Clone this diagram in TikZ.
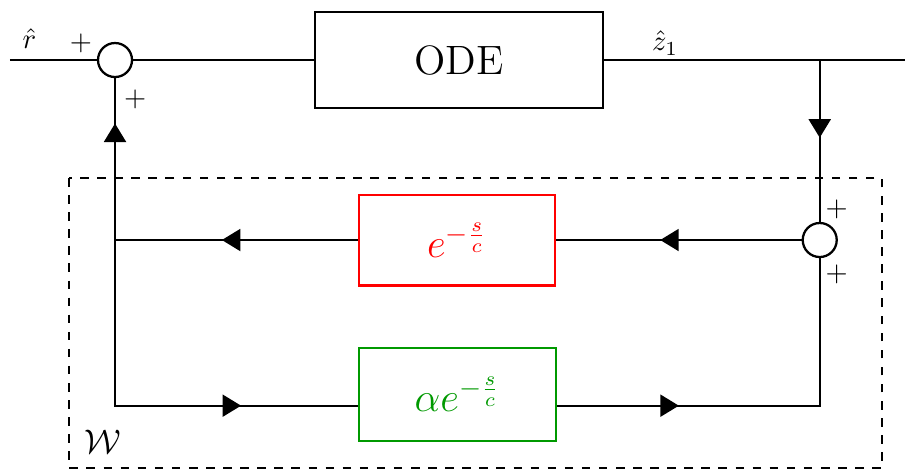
\documentclass[tikz,border=0pt]{standalone}
\usetikzlibrary{arrows.meta,decorations.markings}
\begin{document}
\begin{tikzpicture}[thick,
    block/.style={draw, rectangle, inner sep=2pt},
    sumnode/.style={draw, circle, minimum size=0.42cm, inner sep=0pt},
    flow/.style={postaction={decorate}, decoration={markings, mark=at position #1 with {\arrow{Triangle[length=6.5pt,width=7.7pt]}}}}]
    \useasboundingbox (0,0) rectangle (11.173,-5.802);
    \coordinate (in) at (0.123,-0.741);
    \coordinate (out) at (11.173,-0.741);
    \coordinate (br) at (10.12,-0.741);
    \node[sumnode] (sum1) at (1.42,-0.741) {};
    \node[block, minimum width=3.55cm, minimum height=1.19cm] (ode) at (5.667,-0.741) {\Large ODE};
    \node (rlab) at (0.364,-0.481) {$\hat{r}$};
    \node (zlab) at (8.21,-0.531) {$\hat{z}_1$};
    \node (p1) at ([shift={(-0.42,0.21)}]sum1) {$+$};
    \node (p2) at ([shift={(0.25,-0.49)}]sum1) {$+$};
    \draw (in) -- (sum1) -- (ode) -- (out);
    \draw[dashed] (0.852,-2.198) rectangle (10.889,-5.778);
    \node (wlab) at (1.272,-5.457) {\large $\mathcal{W}$};
    \node[sumnode] (sum2) at (10.12,-2.963) {};
    \node (p3) at ([shift={(0.21,0.38)}]sum2) {$+$};
    \node (p4) at ([shift={(0.21,-0.42)}]sum2) {$+$};
    \node[block, draw=red, text=red, minimum width=2.42cm, minimum height=1.12cm] (delay) at (5.642,-2.963) {\Large $e^{-\frac{s}{c}}$};
    \node[block, draw=green!60!black, text=green!60!black, minimum width=2.43cm, minimum height=1.15cm] (gain) at (5.648,-4.87) {\Large $\alpha e^{-\frac{s}{c}}$};
    \coordinate (jl) at (delay.west -| sum1);
    \draw[flow=0.48] (br) -- (sum2);
    \draw[flow=0.576] (sum2) -- (delay);
    \draw[flow=0.56] (delay) -- (jl);
    \draw[flow=0.72] (jl) -- (sum1);
    \draw[flow=0.714] (jl) |- (gain.mid west);
    \draw[flow=0.297] (gain.mid east) -| (sum2);
\end{tikzpicture}
\end{document}
